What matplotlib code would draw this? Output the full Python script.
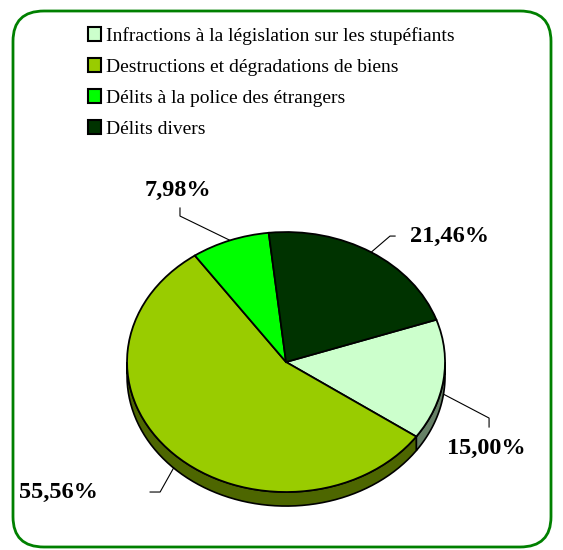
import numpy as np
import matplotlib
matplotlib.use("Agg")
import matplotlib.pyplot as plt
from matplotlib.patches import Patch, Polygon, FancyBboxPatch
from matplotlib.colors import to_rgb

# Données
categories = [
    "Infractions à la législation sur les stupéfiants",
    "Destructions et dégradations de biens",
    "Délits à la police des étrangers",
    "Délits divers",
]
values = [15.00, 55.56, 7.98, 21.46]
labels = ["15,00%", "55,56%", "7,98%", "21,46%"]
colors = ["#CCFFCC", "#99CC00", "#00FF00", "#003300"]

start = 19.0
depth = 0.108

plt.rcParams["font.family"] = ["Liberation Serif", "DejaVu Serif"]

fig = plt.figure(figsize=(5.63, 5.5), dpi=100)
ax = fig.add_axes([0, 0, 1, 1])
ax.axis("off")

# cadre arrondi
frame = FancyBboxPatch((13 / 563, 3 / 550), 538 / 563, 536 / 550,
                       boxstyle="round,pad=0,rounding_size=0.055",
                       transform=fig.transFigure, facecolor="none",
                       edgecolor="#008000", linewidth=2, zorder=0)
fig.patches.append(frame)

# angles des parts (sens horaire)
total = sum(values)
angles = [start]
for v in values:
    angles.append(angles[-1] - 360 * v / total)

# côtés (effet 3D) : partie visible dans [-180, 0]
for i, c in enumerate(colors):
    a1, a0 = angles[i], angles[i + 1]
    segs = []
    for shift in (0, 360):
        l = max(a0 + shift, -180)
        h = min(a1 + shift, 0)
        if h > l:
            segs.append((l, h))
    dark = tuple(0.5 * x for x in to_rgb(c))
    for l, h in segs:
        t = np.radians(np.linspace(l, h, 60))
        top = np.column_stack([np.cos(t), np.sin(t)])
        bot = top[::-1] - [0, depth]
        ax.add_patch(Polygon(np.vstack([top, bot]), closed=True,
                             facecolor=dark, edgecolor="black", linewidth=1.2))

ax.pie(values, colors=colors, startangle=start, counterclock=False,
       wedgeprops=dict(edgecolor="black", linewidth=1.3))
ax.set_aspect("auto")
ax.set_xlim(-1.799, 1.742)
ax.set_ylim(-1.446, 2.785)

# étiquettes et lignes de rappel
text_pos = [(1.258, -0.662), (-1.434, -1.0), (-0.679, 1.323), (1.03, 0.969)]
elbows = [[(1.277, -0.431), (1.277, -0.50)],
          [(-0.792, -1.0), (-0.855, -1.0)],
          [(-0.667, 1.123), (-0.667, 1.185)],
          [(0.654, 0.969), (0.686, 0.969)]]
for i, lab in enumerate(labels):
    mid = np.radians((angles[i] + angles[i + 1]) / 2)
    ax_x, ax_y = np.cos(mid), np.sin(mid)
    if ax_y < 0:
        ax_y -= depth
    pts = [(ax_x, ax_y)] + elbows[i]
    ax.plot([p[0] for p in pts], [p[1] for p in pts], color="black", lw=0.8)
    ax.text(text_pos[i][0], text_pos[i][1], lab, ha="center", va="center",
            fontsize=17.5, fontweight="bold")

handles = [Patch(facecolor=c, edgecolor="black", linewidth=1.5) for c in colors]
fig.legend(handles, categories, loc="upper left", bbox_to_anchor=(80 / 563, 1 - 19 / 550),
           frameon=False, fontsize=14, handlelength=0.68, handleheight=0.68,
           handletextpad=0.25, labelspacing=0.7, borderaxespad=0)

fig.savefig("out.png", dpi=100)
